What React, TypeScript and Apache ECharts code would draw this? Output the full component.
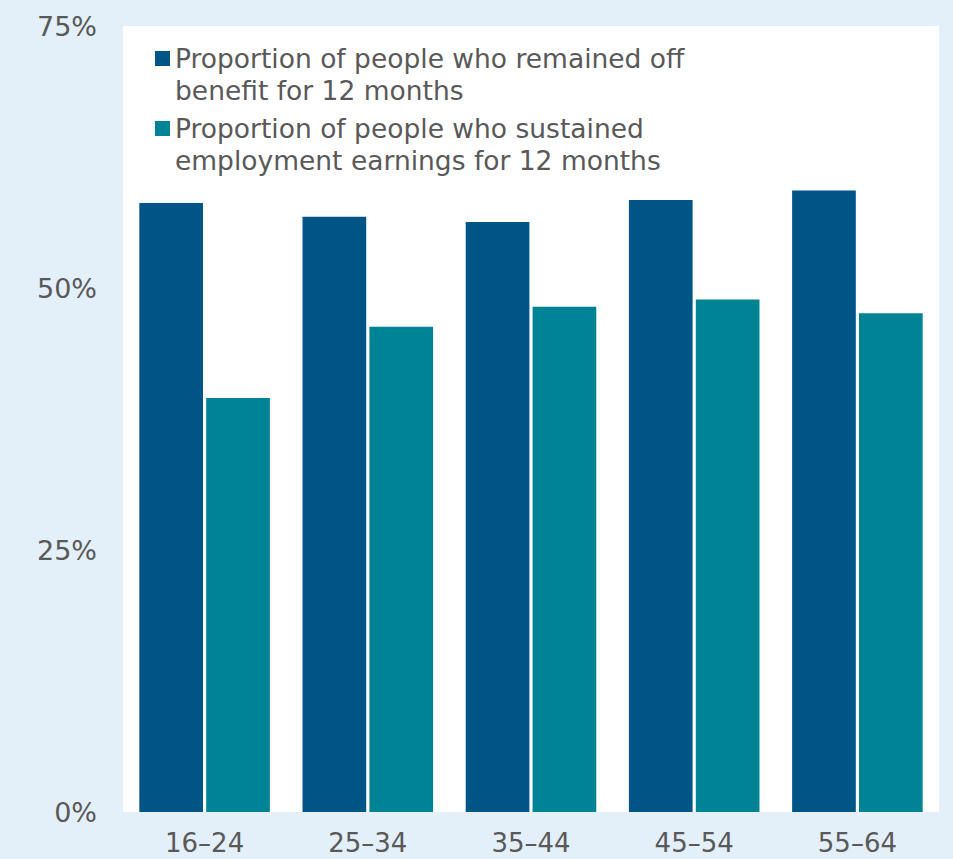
import React, { useEffect, useRef } from "react";
import * as echarts from "echarts";

const categories = ["16–24", "25–34", "35–44", "45–54", "55–64"];
const offBenefit = [58.1, 56.8, 56.3, 58.4, 59.3];
const sustainedEmployment = [39.5, 46.3, 48.2, 48.9, 47.6];
const seriesNames = [
  "Proportion of people who remained off benefit for 12 months",
  "Proportion of people who sustained employment earnings for 12 months",
];
const legendLabels = [
  "Proportion of people who remained off\nbenefit for 12 months",
  "Proportion of people who sustained\nemployment earnings for 12 months",
];
const yTicks = { min: 0, max: 75, interval: 25 };

const TEXT = "#595959";
const FONT = "Verdana, 'DejaVu Sans'";

export default function App() {
  const ref = useRef<HTMLDivElement>(null);
  useEffect(() => {
    if (!ref.current) return;
    const chart = echarts.init(ref.current, undefined, { renderer: "svg" });
    const legendText = {
      color: TEXT,
      fontFamily: FONT,
      fontSize: 26.5,
      lineHeight: 32,
    };
    chart.setOption({
      animation: false,
      backgroundColor: "#e4f0f9",
      textStyle: { fontFamily: FONT },
      grid: {
        left: 123,
        right: 14,
        top: 26,
        bottom: 47,
        show: true,
        backgroundColor: "#ffffff",
        borderWidth: 0,
      },
      legend: [0, 1].map((i) => ({
        data: [seriesNames[i]],
        left: 155,
        top: i === 0 ? 10.5 : 80.5,
        padding: 0,
        itemWidth: 15,
        itemHeight: 15,
        itemGap: 0,
        icon: "rect",
        formatter: () => "\n" + legendLabels[i],
        textStyle: legendText,
        selectedMode: false,
      })),
      xAxis: {
        type: "category",
        data: categories,
        axisLine: { show: false },
        axisTick: { show: false },
        axisLabel: {
          color: TEXT,
          fontSize: 26,
          fontFamily: FONT,
          margin: 17,
          lineHeight: 28,
        },
      },
      yAxis: {
        type: "value",
        min: yTicks.min,
        max: yTicks.max,
        interval: yTicks.interval,
        splitLine: { show: false },
        axisLine: { show: false },
        axisTick: { show: false },
        axisLabel: {
          color: TEXT,
          fontSize: 27,
          fontFamily: FONT,
          margin: 26,
          formatter: "{value}%",
        },
      },
      series: [
        {
          name: seriesNames[0],
          type: "bar",
          data: offBenefit,
          barGap: "5%",
          barCategoryGap: "20%",
          itemStyle: { color: "#005587" },
        },
        {
          name: seriesNames[1],
          type: "bar",
          data: sustainedEmployment,
          barGap: "5%",
          barCategoryGap: "20%",
          itemStyle: { color: "#008394" },
        },
      ],
    });
    return () => chart.dispose();
  }, []);
  return (
    <div
      ref={ref}
      style={{ position: "fixed", left: 0, top: 0, width: 953, height: 859 }}
    />
  );
}
